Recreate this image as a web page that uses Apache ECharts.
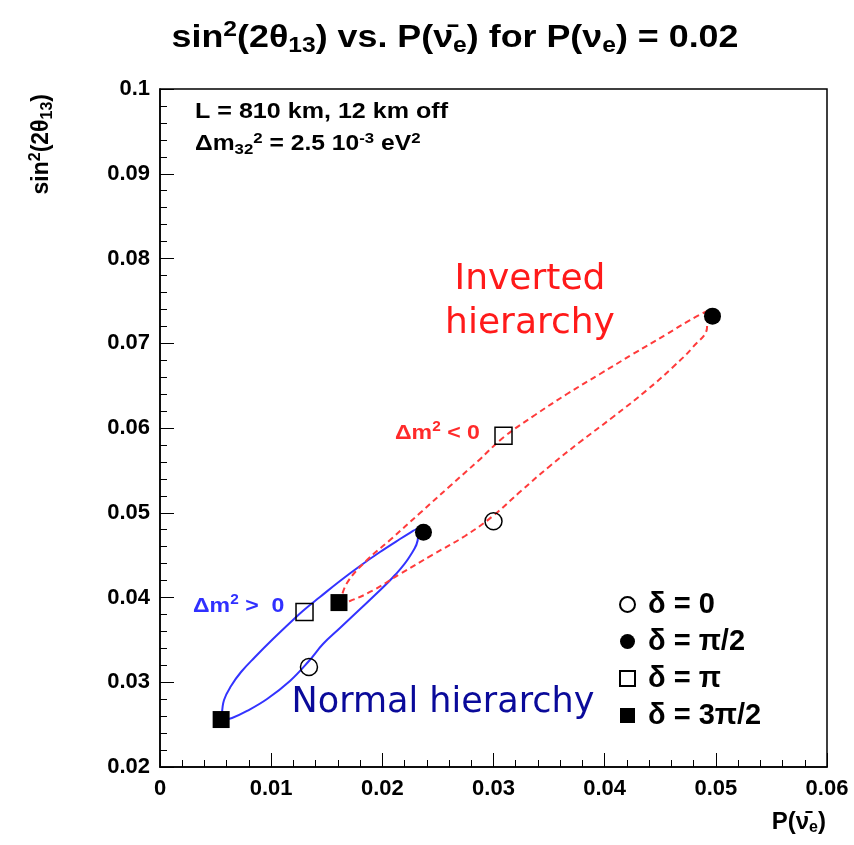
<!DOCTYPE html>
<html>
<head>
<meta charset="utf-8">
<script src="https://cdn.jsdelivr.net/npm/echarts@6/dist/echarts.min.js"></script>
<style>
  html, body {margin: 0; padding: 0; background: #fff;}
  #chart {width: 854px; height: 845px;}
</style>
</head>
<body>
<div id="chart"></div>
<script>
// delta markers: 0, pi/2, pi, 3pi/2
const deltaNames = ['δ = 0', 'δ = π/2', 'δ = π', 'δ = 3π/2'];
const normalX = [0.0134, 0.0237, 0.0130, 0.0055];
const normalY = [0.0318, 0.0477, 0.0383, 0.0256];
const invertedX = [0.0300, 0.0497, 0.0309, 0.0161];
const invertedY = [0.0490, 0.0732, 0.0591, 0.0394];

// normal hierarchy contour (closed, starts at delta = 3pi/2)
const normalCurveX = [0.00558, 0.00576, 0.00639, 0.00729, 0.00855, 0.01016, 0.01196, 0.01295, 0.01439, 0.01619,
  0.01799, 0.01979, 0.02159, 0.02276, 0.02321,
  0.02321, 0.02249, 0.02114, 0.01934, 0.01772, 0.01619, 0.01466, 0.01340, 0.01169, 0.00963,
  0.00783, 0.00648, 0.00558];
const normalCurveY = [0.02625, 0.02791, 0.02956, 0.03121, 0.03298, 0.03510, 0.03735, 0.03853, 0.04006, 0.04195,
  0.04372, 0.04537, 0.04690, 0.04785, 0.04820,
  0.04714, 0.04490, 0.04265, 0.04029, 0.03829, 0.03640, 0.03451, 0.03251, 0.03015, 0.02802,
  0.02661, 0.02578, 0.02555];

// inverted hierarchy contour (closed, starts at delta = 3pi/2)
const invertedCurveX = [0.01619, 0.01682, 0.01862, 0.02069, 0.02339, 0.02609, 0.02861, 0.03094, 0.03373, 0.03661,
  0.03958, 0.04255, 0.04561, 0.04768, 0.04921,
  0.04921, 0.04795, 0.04615, 0.04381, 0.04075, 0.03778, 0.03508, 0.03247, 0.02995, 0.02744,
  0.02447, 0.02159, 0.01907, 0.01709, 0.01619];
const invertedCurveY = [0.03935, 0.04171, 0.04442, 0.04678, 0.04997, 0.05316, 0.05611, 0.05894, 0.06153, 0.06401,
  0.06637, 0.06873, 0.07109, 0.07274, 0.07380,
  0.07192, 0.06956, 0.06720, 0.06448, 0.06130, 0.05835, 0.05552, 0.05257, 0.04962, 0.04726,
  0.04501, 0.04277, 0.04077, 0.03959, 0.03935];

const FONT = '"Liberation Sans", Arial, sans-serif';
const HAND = '"DejaVu Sans", sans-serif';

const pairs = (xs, ys) => xs.map((x, i) => [x, ys[i]]);

const markerStyle = [
  {symbol: 'circle', color: 'rgba(0,0,0,0)', border: 1.5},
  {symbol: 'circle', color: '#000', border: 0},
  {symbol: 'rect', color: 'rgba(0,0,0,0)', border: 1.5},
  {symbol: 'rect', color: '#000', border: 0},
];

// rich text styles for bold text with super/subscripts
const richText = (size, color) => {
  const small = Math.round(size * 0.68);
  const shift = Math.round(size * 0.5);
  return {
    m: {fontSize: size, fontWeight: 'bold', fontFamily: FONT, fill: color},
    sup: {fontSize: small, fontWeight: 'bold', fontFamily: FONT, fill: color, padding: [0, 0, shift, 0]},
    sub: {fontSize: small, fontWeight: 'bold', fontFamily: FONT, fill: color, padding: [shift, 0, 0, 0]}
  };
};

const chart = echarts.init(document.getElementById('chart'));

chart.setOption({
  animation: false,
  grid: {left: 160, right: 27, top: 89, bottom: 78, show: true, borderColor: '#000', borderWidth: 1.5},
  xAxis: {
    type: 'value', min: 0, max: 0.06, interval: 0.01,
    axisLine: {lineStyle: {color: '#000', width: 1.5}},
    axisTick: {inside: true, length: 14, lineStyle: {color: '#000'}},
    minorTick: {show: true, splitNumber: 5, length: 7, lineStyle: {color: '#000'}},
    splitLine: {show: false},
    axisLabel: {
      color: '#000', fontSize: 22, fontWeight: 'bold', fontFamily: FONT, margin: 11,
      formatter: v => String(+v.toFixed(3))
    }
  },
  yAxis: {
    type: 'value', min: 0.02, max: 0.1, interval: 0.01,
    axisLine: {lineStyle: {color: '#000', width: 1.5}},
    axisTick: {inside: true, length: 14, lineStyle: {color: '#000'}},
    minorTick: {show: true, splitNumber: 5, length: 7, lineStyle: {color: '#000'}},
    splitLine: {show: false},
    axisLabel: {
      color: '#000', fontSize: 22, fontWeight: 'bold', fontFamily: FONT, margin: 10,
      formatter: v => String(+v.toFixed(3))
    }
  },
  legend: {
    orient: 'vertical', left: 614, top: 585, itemWidth: 15, itemHeight: 15, itemGap: 8,
    data: deltaNames,
    textStyle: {fontSize: 29, fontWeight: 'bold', fontFamily: FONT, color: '#000', padding: [0, 0, 0, 8]}
  },
  graphic: [
    {
      type: 'text', x: 455, y: 38, scaleX: 1.12,
      style: {
        text: '{m|sin}{sup|2}{m|(2θ}{sub|13}{m|) vs. P(ν̄}{sub|e}{m|) for P(ν}{sub|e}{m|) = 0.02}',
        align: 'center', verticalAlign: 'middle',
        rich: richText(32, '#000')
      }
    },
    {
      type: 'text', x: 42, y: 94, rotation: Math.PI / 2,
      style: {
        text: '{m|sin}{sup|2}{m|(2θ}{sub|13}{m|)}',
        align: 'right', verticalAlign: 'middle',
        rich: richText(23, '#000')
      }
    },
    {
      type: 'text', x: 826, y: 822,
      style: {
        text: '{m|P(ν̄}{sub|e}{m|)}',
        align: 'right', verticalAlign: 'middle',
        rich: richText(24, '#000')
      }
    },
    {
      type: 'text', x: 195, y: 112, scaleX: 1.14,
      style: {text: 'L = 810 km, 12 km off', fontSize: 22, fontWeight: 'bold', fontFamily: FONT,
        fill: '#000', verticalAlign: 'middle'}
    },
    {
      type: 'text', x: 195, y: 144, scaleX: 1.12,
      style: {
        text: '{m|Δm}{sub|32}{sup|2}{m| = 2.5 10}{sup|-3}{m| eV}{sup|2}',
        verticalAlign: 'middle',
        rich: richText(22, '#000')
      }
    },
    {
      type: 'text', x: 530, y: 302,
      style: {text: 'Inverted\nhierarchy', fontSize: 36, fontFamily: HAND, fill: '#ff1a1a',
        align: 'center', verticalAlign: 'middle', lineHeight: 44}
    },
    {
      type: 'text', x: 443, y: 703,
      style: {text: 'Normal hierarchy', fontSize: 35, fontFamily: HAND, fill: '#0a0a9a',
        align: 'center', verticalAlign: 'middle'}
    },
    {
      type: 'text', x: 395, y: 433, scaleX: 1.1,
      style: {
        text: '{m|Δm}{sup|2}{m| < 0}', verticalAlign: 'middle',
        rich: richText(21, '#ff2a2a')
      }
    },
    {
      type: 'text', x: 193, y: 606, scaleX: 1.1,
      style: {
        text: '{m|Δm}{sup|2}{m| >  0}', verticalAlign: 'middle',
        rich: richText(21, '#3030ff')
      }
    }
  ],
  series: [
    {
      type: 'line', name: 'normal', data: pairs(normalCurveX, normalCurveY),
      smooth: 0.4, showSymbol: false, silent: true,
      lineStyle: {color: '#3333ff', width: 2}
    },
    {
      type: 'line', name: 'inverted', data: pairs(invertedCurveX, invertedCurveY),
      smooth: 0.4, showSymbol: false, silent: true,
      lineStyle: {color: '#ff3b3b', width: 2, type: [6, 4]}
    },
    ...deltaNames.map((name, i) => ({
      type: 'scatter', name: name, z: 5,
      symbol: markerStyle[i].symbol, symbolSize: 17,
      itemStyle: {color: markerStyle[i].color, borderColor: '#000', borderWidth: markerStyle[i].border, opacity: 1},
      data: [[normalX[i], normalY[i]], [invertedX[i], invertedY[i]]]
    }))
  ]
});
</script>
</body>
</html>
